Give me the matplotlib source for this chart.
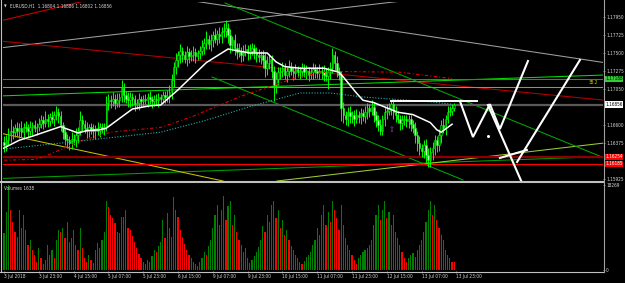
import numpy as np
import matplotlib
matplotlib.use("Agg")
import matplotlib.pyplot as plt
from matplotlib.lines import Line2D

plt.rcParams['font.family'] = ['DejaVu Sans']
plt.rcParams['font.stretch'] = 'condensed'

# ---- hourly EURUSD candles, 3 Jul 07:00 .. 13 Jul (bar index 0..207)
closes = [1.1635, 1.1641, 1.1647, 1.1653, 1.1651, 1.1656,
          1.1653, 1.1656, 1.1651, 1.1658, 1.1656, 1.1653, 1.1657, 1.1660, 1.1656, 1.1658,
          1.1661, 1.1666, 1.1663, 1.1668, 1.1665, 1.1670, 1.1667, 1.1672, 1.1676, 1.1671,
          1.1660, 1.1651, 1.1643, 1.1641, 1.1638, 1.1643, 1.1641, 1.1647, 1.1653, 1.1666,
          1.1661, 1.1656, 1.1653, 1.1657, 1.1655, 1.1652, 1.1656, 1.1653, 1.1657, 1.1655,
          1.1658, 1.1687, 1.1691, 1.1690, 1.1693, 1.1688, 1.1691, 1.1695, 1.1706, 1.1697,
          1.1693, 1.1691, 1.1695, 1.1692, 1.1686, 1.1688, 1.1692, 1.1690, 1.1693, 1.1691,
          1.1695, 1.1692, 1.1690, 1.1693, 1.1691, 1.1695, 1.1693, 1.1697, 1.1695, 1.1696,
          1.1701, 1.1716, 1.1733, 1.1741, 1.1747, 1.1753, 1.1747, 1.1743, 1.1751, 1.1746,
          1.1748, 1.1751, 1.1746, 1.1750, 1.1753, 1.1758, 1.1763, 1.1768, 1.1761, 1.1766,
          1.1772, 1.1768, 1.1774, 1.1771, 1.1776, 1.1778, 1.1781, 1.1772, 1.1760, 1.1766,
          1.1756, 1.1751, 1.1753, 1.1748, 1.1752, 1.1755, 1.1750, 1.1753, 1.1756, 1.1751,
          1.1747, 1.1745, 1.1748, 1.1741, 1.1731, 1.1738, 1.1743, 1.1728, 1.1710, 1.1718,
          1.1726, 1.1728, 1.1731, 1.1723, 1.1728, 1.1733, 1.1728, 1.1725, 1.1730, 1.1726,
          1.1728, 1.1731, 1.1726, 1.1727, 1.1723, 1.1726, 1.1730, 1.1727, 1.1725, 1.1728,
          1.1726, 1.1723, 1.1721, 1.1726, 1.1731, 1.1747, 1.1738, 1.1728, 1.1722, 1.1681,
          1.1672, 1.1668, 1.1676, 1.1671, 1.1673, 1.1668, 1.1672, 1.1670, 1.1675, 1.1671,
          1.1676, 1.1681, 1.1678, 1.1683, 1.1672, 1.1666, 1.1660, 1.1653, 1.1668, 1.1676,
          1.1678, 1.1681, 1.1686, 1.1676, 1.1672, 1.1668, 1.1663, 1.1666, 1.1668, 1.1665,
          1.1667, 1.1661, 1.1656, 1.1647, 1.1638, 1.1631, 1.1628, 1.1635, 1.1622, 1.1616,
          1.1626, 1.1631, 1.1641, 1.1635, 1.1647, 1.1660, 1.1656, 1.1668, 1.1676, 1.1678,
          1.1681, 1.1685]

# wicks beyond the body, in pips
up_wick = [7, 6, 9, 14, 6, 5, 8, 6, 9, 5, 7, 5, 8, 4, 6, 5, 8, 6, 5, 9,
           6, 5, 8, 6, 8, 5, 6, 4, 5, 6, 5, 8, 6, 9, 5, 11, 6, 5, 8, 4,
           5, 6, 4, 8, 5, 6, 5, 9, 8, 6, 8, 6, 9, 5, 10, 6, 5, 8, 6, 5,
           6, 5, 8, 4, 5, 6, 5, 8, 4, 5, 6, 5, 4, 6, 5, 8, 9, 8, 6, 9,
           6, 8, 5, 6, 8, 5, 6, 8, 5, 4, 6, 8, 6, 9, 5, 8, 6, 9, 5, 8,
           6, 9, 10, 6, 8, 5, 8, 6, 9, 5, 8, 6, 5, 8, 6, 5, 6, 8, 5, 6,
           9, 8, 6, 5, 6, 8, 6, 5, 8, 6, 5, 8, 6, 5, 6, 4, 5, 6, 5, 8,
           6, 5, 8, 6, 5, 8, 6, 9, 8, 6, 8, 9, 6, 8, 5, 6, 8, 5, 6, 8,
           5, 6, 8, 5, 6, 5, 8, 6, 5, 8, 6, 5, 6, 8, 5, 6, 8, 6, 5, 6,
           8, 6, 5, 6, 5, 4, 5, 6, 5, 8, 6, 8, 5, 6, 8, 9, 6, 8, 6, 5,
           8, 6, 9, 5, 8, 6, 5, 3]
dn_wick = [9, 8, 6, 8, 9, 6, 8, 9, 6, 8, 5, 8, 6, 9, 5, 8, 6, 5, 8, 6,
           8, 6, 5, 8, 6, 9, 8, 9, 8, 10, 9, 8, 6, 8, 9, 6, 8, 6, 9, 8,
           6, 8, 9, 6, 8, 5, 8, 6, 8, 9, 6, 8, 5, 9, 6, 8, 6, 9, 8, 8,
           8, 6, 9, 8, 6, 5, 8, 6, 9, 6, 5, 8, 6, 5, 8, 6, 8, 9, 8, 9,
           8, 9, 8, 6, 9, 8, 6, 8, 9, 5, 8, 6, 9, 8, 6, 9, 8, 6, 8, 9,
           8, 6, 8, 9, 10, 8, 9, 8, 6, 9, 8, 6, 9, 8, 6, 9, 8, 6, 9, 10,
           11, 9, 8, 9, 20, 10, 8, 9, 8, 6, 9, 8, 6, 9, 8, 6, 9, 8, 6, 8,
           8, 6, 9, 8, 6, 8, 9, 8, 6, 16, 8, 6, 9, 8, 6, 16, 9, 8, 9, 8,
           8, 9, 6, 8, 9, 6, 8, 9, 8, 6, 8, 9, 8, 6, 6, 9, 8, 6, 8, 9,
           8, 6, 9, 8, 6, 8, 9, 8, 6, 9, 10, 9, 8, 9, 10, 8, 9, 10, 8, 9,
           8, 9, 6, 8, 6, 5, 6, 4]

volumes = [7800, 12300, 18269, 12700, 10200, 8000, 7000, 12700, 8900, 11700,
           8500, 5300, 6400, 4200, 3200, 1700, 4700, 2500, 1300, 2100,
           5300, 3200, 4200, 2500, 6400, 8500, 8000, 8900, 6800, 10200,
           5900, 6800, 8500, 5300, 4200, 8900, 4700, 2500, 1700, 3200,
           2100, 1500, 4200, 5700, 4700, 6400, 8000, 14800, 13400, 11700,
           11000, 10000, 8000, 7800, 11200, 11200, 12700, 8900, 8500, 7200,
           5900, 4700, 3400, 2500, 1700, 1100, 2100, 1700, 3000, 4200,
           3800, 5100, 5900, 10600, 6800, 12100, 8900, 7000, 15500, 12700,
           11200, 8500, 7000, 5500, 4200, 3200, 2500, 1700, 1100, 850,
           1700, 2500, 3800, 3200, 5100, 6400, 8900, 11700, 13800, 9500,
           12700, 15900, 10600, 13600, 14800, 9500, 11700, 8000, 6400, 5300,
           3800, 4700, 2500, 1500, 2100, 3000, 3800, 4900, 6400, 9300,
           8000, 11700, 10200, 13800, 14800, 11000, 12700, 8900, 10600, 7400,
           8500, 6400, 5100, 4200, 3200, 2500, 1700, 1100, 1900, 2800,
           3200, 3800, 5300, 6400, 8900, 7400, 11700, 13800, 9500, 12300,
           10200, 14800, 12700, 11000, 8500, 13800, 9500, 6800, 5300, 4200,
           3200, 2100, 1300, 2500, 3200, 3800, 4200, 4700, 5300, 6400,
           9500, 11700, 13800, 10600, 12700, 14800, 11000, 12300, 9500, 11700,
           8000, 6800, 5300, 3800, 2500, 1700, 2500, 3200, 3600, 2800,
           4200, 5300, 6400, 8000, 10200, 12700, 14800, 11700, 13800, 10600,
           8900, 7400, 6400, 4200, 3200, 2500, 1700, 1638]

# moving averages (bar index, price)
ma_white_x = [-1, 7, 13, 26, 30, 34, 38, 44, 47, 53, 59, 67, 72, 80, 93, 103, 107, 113,
              121, 125, 129, 136, 147, 154, 156, 162, 165, 170, 181, 188, 196, 199, 201, 206]
ma_white_y = [1.1630, 1.1641, 1.1646, 1.1658, 1.1654, 1.1650, 1.1653, 1.1654, 1.1656,
              1.1668, 1.1680, 1.1684, 1.1685, 1.1704, 1.1738, 1.1755, 1.1753, 1.1750,
              1.1750, 1.1739, 1.1733, 1.1731, 1.1731, 1.1726, 1.1720, 1.1700, 1.1691,
              1.1688, 1.1676, 1.1673, 1.1663, 1.1654, 1.1651, 1.1661]
ma_teal_x = [0, 35, 72, 93, 113, 136, 150, 165, 196, 206]
ma_teal_y = [1.1630, 1.1640, 1.1651, 1.1666, 1.1683, 1.1700, 1.1700, 1.1695, 1.1689, 1.1686]
ma_red_x = [0, 14, 19, 35, 49, 72, 86, 109, 135, 150, 182, 206]
ma_red_y = [1.1616, 1.1617, 1.1621, 1.1640, 1.1651, 1.1657, 1.1670, 1.1696, 1.1720,
            1.1727, 1.1726, 1.1718]

# drawn objects: trendlines (bar index pairs, price pairs)
gray_a = ([-2, 183], [1.17563, 1.18150])
gray_b = ([84, 276], [1.18163, 1.17380])
red_c = ([-2, 39], [1.17900, 1.18163])
red_d = ([-2, 276], [1.17650, 1.16910])
green_g2 = ([-2, 276], [1.16963, 1.17225])
green_g3 = ([-2, 276], [1.15931, 1.16206])
yellowgreen = ([125.5, 276], [1.15900, 1.16375])
yellow = ([-2, 100.7], [1.16500, 1.15900])
chan_top = ([101.6, 276], [1.18125, 1.16188])
chan_low = ([95.6, 211], [1.17200, 1.15913])
white_seg = ([178, 217.5], [1.16900, 1.16900])
zig_x = [209.6, 215.6, 223.4, 228.0, 240.9]
zig_y = [1.1690, 1.1645, 1.1686, 1.1655, 1.1740]
zig_long1 = ([222.5, 238.2], [1.1685, 1.15875])
zig_short = ([228.0, 240.4], [1.16188, 1.16288])
zig_long2 = ([235.9, 264.8], [1.16138, 1.17413])

# horizontal levels
green_level = 1.17180
fib_level = 1.17069
bid_level = 1.16856
darkred_level = 1.16204
red_level = 1.16113

price_ticks = [1.17950, 1.17725, 1.17500, 1.17275, 1.17050, 1.16600, 1.16375, 1.15925]
time_labels = ["3 Jul 2018", "3 Jul 23:00", "4 Jul 15:00", "5 Jul 07:00", "5 Jul 23:00",
               "6 Jul 15:00", "9 Jul 07:00", "9 Jul 23:00", "10 Jul 15:00", "11 Jul 07:00",
               "11 Jul 23:00", "12 Jul 15:00", "13 Jul 07:00", "13 Jul 23:00"]

W, H = 625, 283
fig = plt.figure(figsize=(6.25, 2.83), dpi=100, facecolor='black')
ax = fig.add_axes([3 / W, 1 - 181 / H, 600 / W, 179 / H], facecolor='black')
axv = fig.add_axes([3 / W, 1 - 271 / H, 600 / W, 88 / H], facecolor='black')

FS = 3.4
TXT = '#d8d8d8'

# ---- lines under the candles
lw1 = 0.75
for (xs, ys), col in [(gray_a, '#a0a0a0'), (gray_b, '#a0a0a0'), (red_c, '#d00000'),
                      (red_d, '#b80000'), (green_g2, '#00dd00'), (green_g3, '#00a000'),
                      (yellowgreen, '#9acd32'), (yellow, '#c8c000'),
                      (chan_top, '#00a800'), (chan_low, '#00a800')]:
    ax.plot(xs, ys, color=col, lw=lw1, zorder=1)
ax.axhline(green_level, color='#00b000', lw=lw1, zorder=1)
ax.axhline(fib_level, color='#a0a000', lw=lw1, zorder=1)
ax.axhline(bid_level, color='#5a5a5a', lw=1.6, zorder=1)
ax.axhline(darkred_level, color='#8b0000', lw=1.6, zorder=1)
ax.axhline(red_level, color='#ff0000', lw=0.8, zorder=1)

# ---- candles
idx = np.arange(len(closes))
c = np.array(closes)
o = np.concatenate([[c[0] + 0.0004], c[:-1]])
hi = np.maximum(o, c) + np.array(up_wick) * 0.0001
lo = np.minimum(o, c) - np.array(dn_wick) * 0.0001
ax.vlines(idx, lo, hi, color='#00ff00', lw=0.7, zorder=2)
body_col = np.where(c >= o, '#004000', '#b8ffb8')
ax.bar(idx, np.maximum(np.abs(c - o), 0.00003), bottom=np.minimum(o, c), width=0.7,
       color=body_col, edgecolor='#00ff00', linewidth=0.4, zorder=2)

# ---- moving averages
ax.plot(ma_red_x, ma_red_y, color='#e00000', lw=0.8, ls=(0, (3, 2, 1, 2)), zorder=3)
ax.plot(ma_teal_x, ma_teal_y, color='#20b2aa', lw=0.8, ls=(0, (1, 1.5)), zorder=3)
ax.plot(ma_white_x, ma_white_y, color='white', lw=1.1, zorder=3)

# ---- hand drawn white zigzag
ax.plot(*white_seg, color='white', lw=1.4, zorder=4)
ax.plot(zig_x, zig_y, color='white', lw=1.5, zorder=4, solid_joinstyle='miter')
for xs, ys in [zig_long1, zig_short, zig_long2]:
    ax.plot(xs, ys, color='white', lw=1.5, zorder=4, clip_on=False)
ax.plot([222.5], [1.16463], 'o', color='white', ms=1.2, zorder=4)
ax.text(178.4, 1.16538, '\u21e7', color='#b040c0', fontsize=5.5,
        ha='center', va='center', zorder=4)

ax.set_xlim(-0.5, 275.4)
ax.set_ylim(1.159, 1.181375)
axv.set_xlim(-0.5, 275.4)
axv.set_ylim(-300, 18600)

# ---- volumes
vcol = ['#008000'] + ['#008000' if volumes[k] > volumes[k - 1] else '#ff0000'
                      for k in range(1, len(volumes))]
axv.bar(idx, volumes, width=0.55, color=vcol, linewidth=0)

# ---- axes styling
for a in (ax, axv):
    for s in a.spines.values():
        s.set_visible(False)
    a.yaxis.tick_right()
    a.tick_params(colors='#b0b0b0', labelcolor=TXT, labelsize=FS, length=1.5, width=0.5, pad=0.8)
ax.set_xticks([])
ax.set_yticks(price_ticks)
ax.set_yticklabels(['%.5f' % p for p in price_ticks])
axv.set_yticks([18269, 0])
axv.set_yticklabels(['18269', '0'])
axv.set_xticks(np.arange(0, 16 * len(time_labels), 16))
axv.set_xticklabels(time_labels, ha='left')

# ---- price boxes on the right scale
tr = ax.get_yaxis_transform()
for val, txt, fc, tc in [(green_level, '1.17188', '#32cd32', 'black'),
                         (bid_level, '1.16856', 'white', 'black'),
                         (darkred_level, '1.16254', '#ff0000', 'white'),
                         (red_level, '1.16185', '#ff0000', 'white')]:
    ax.text(1.0035, val, txt, transform=tr, fontsize=FS, color=tc, ha='left', va='center',
            bbox=dict(boxstyle='square,pad=0.12', fc=fc, ec='none'), clip_on=False, zorder=6)
ax.text(0.992, fib_level + 0.00025, '38.2', transform=tr, fontsize=FS, color='#c8c800',
        ha='right', va='bottom', zorder=6)

# ---- frame lines
frame = '#c0c0c0'
fig.add_artist(Line2D([0, 603 / W], [1 - 181.5 / H] * 2, color=frame, lw=1.5))
fig.add_artist(Line2D([0, 603.5 / W], [1 - 271.5 / H] * 2, color=frame, lw=0.8))
fig.add_artist(Line2D([603.5 / W] * 2, [1 - 271.5 / H, 1], color='#a0a0a0', lw=0.8))
fig.add_artist(Line2D([1.5 / W] * 2, [1 - 271.5 / H, 1], color=frame, lw=0.8))

# ---- titles
fig.text(3.5 / W, 1 - 6 / H, '\u25bc', color=TXT, fontsize=2.8, va='center')
fig.text(10 / W, 1 - 6 / H, 'EURUSD,H1  1.16804 1.16886 1.16802 1.16856', color=TXT,
         fontsize=FS, va='center')
fig.text(4 / W, 1 - 188 / H, 'Volumes 1638', color=TXT, fontsize=FS, va='center')

fig.savefig('out.png', dpi=100, facecolor='black')
